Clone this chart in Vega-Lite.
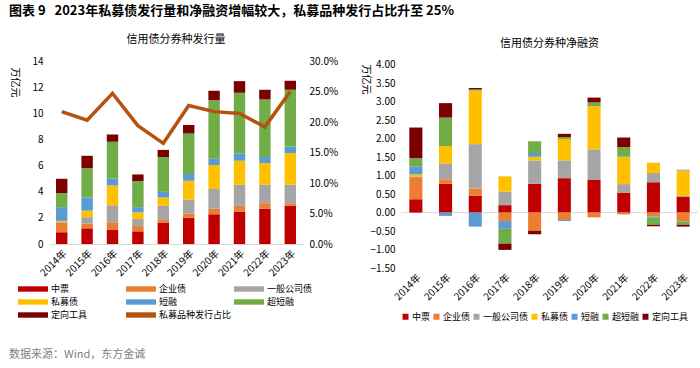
{
  "$schema": "https://vega.github.io/schema/vega-lite/v6.json",
  "padding": {"left": 9, "top": 5, "right": 2, "bottom": 3},
  "background": "white",
  "config": {
    "font": "Noto Sans CJK SC",
    "view": {"stroke": null},
    "axis": {"labelFont": "Noto Sans CJK SC", "labelColor": "#000", "titleColor": "#000", "grid": false, "ticks": false, "domain": false, "labelFontSize": 10, "titleFontSize": 10, "titleFontWeight": "normal", "labelOverlap": false},
    "legend": {"labelFontSize": 9.3, "labelColor": "#000", "labelFont": "Noto Sans CJK SC", "padding": 0},
    "title": {"fontWeight": "normal", "color": "#000"}
  },
  "title": {"text": "图表 9\u00a0\u00a0\u00a02023年私募债发行量和净融资增幅较大，私募品种发行占比升至 25%", "anchor": "start", "fontSize": 13, "fontWeight": "bold", "offset": 16, "color": "#000"},
  "datasets": {
    "issue": [
      {"year": "2014年", "series": "中票", "k": 0, "value": 0.9},
      {"year": "2014年", "series": "企业债", "k": 1, "value": 0.74},
      {"year": "2014年", "series": "一般公司债", "k": 2, "value": 0.05},
      {"year": "2014年", "series": "私募债", "k": 3, "value": 0.08},
      {"year": "2014年", "series": "短融", "k": 4, "value": 1.05},
      {"year": "2014年", "series": "超短融", "k": 5, "value": 1.07},
      {"year": "2014年", "series": "定向工具", "k": 6, "value": 1.1},
      {"year": "2015年", "series": "中票", "k": 0, "value": 1.2},
      {"year": "2015年", "series": "企业债", "k": 1, "value": 0.35},
      {"year": "2015年", "series": "一般公司债", "k": 2, "value": 0.5},
      {"year": "2015年", "series": "私募债", "k": 3, "value": 0.5},
      {"year": "2015年", "series": "短融", "k": 4, "value": 1.0},
      {"year": "2015年", "series": "超短融", "k": 5, "value": 2.25},
      {"year": "2015年", "series": "定向工具", "k": 6, "value": 0.95},
      {"year": "2016年", "series": "中票", "k": 0, "value": 1.07},
      {"year": "2016年", "series": "企业债", "k": 1, "value": 0.6},
      {"year": "2016年", "series": "一般公司债", "k": 2, "value": 1.3},
      {"year": "2016年", "series": "私募债", "k": 3, "value": 1.5},
      {"year": "2016年", "series": "短融", "k": 4, "value": 0.55},
      {"year": "2016年", "series": "超短融", "k": 5, "value": 2.8},
      {"year": "2016年", "series": "定向工具", "k": 6, "value": 0.55},
      {"year": "2017年", "series": "中票", "k": 0, "value": 0.97},
      {"year": "2017年", "series": "企业债", "k": 1, "value": 0.4},
      {"year": "2017年", "series": "一般公司债", "k": 2, "value": 0.55},
      {"year": "2017年", "series": "私募债", "k": 3, "value": 0.5},
      {"year": "2017年", "series": "短融", "k": 4, "value": 0.4},
      {"year": "2017年", "series": "超短融", "k": 5, "value": 2.0},
      {"year": "2017年", "series": "定向工具", "k": 6, "value": 0.5},
      {"year": "2018年", "series": "中票", "k": 0, "value": 1.64},
      {"year": "2018年", "series": "企业债", "k": 1, "value": 0.2},
      {"year": "2018年", "series": "一般公司债", "k": 2, "value": 1.08},
      {"year": "2018年", "series": "私募债", "k": 3, "value": 0.64},
      {"year": "2018年", "series": "短融", "k": 4, "value": 0.43},
      {"year": "2018年", "series": "超短融", "k": 5, "value": 2.66},
      {"year": "2018年", "series": "定向工具", "k": 6, "value": 0.55},
      {"year": "2019年", "series": "中票", "k": 0, "value": 2.0},
      {"year": "2019年", "series": "企业债", "k": 1, "value": 0.33},
      {"year": "2019年", "series": "一般公司债", "k": 2, "value": 1.07},
      {"year": "2019年", "series": "私募债", "k": 3, "value": 1.44},
      {"year": "2019年", "series": "短融", "k": 4, "value": 0.51},
      {"year": "2019年", "series": "超短融", "k": 5, "value": 3.1},
      {"year": "2019年", "series": "定向工具", "k": 6, "value": 0.66},
      {"year": "2020年", "series": "中票", "k": 0, "value": 2.28},
      {"year": "2020年", "series": "企业债", "k": 1, "value": 0.41},
      {"year": "2020年", "series": "一般公司债", "k": 2, "value": 1.51},
      {"year": "2020年", "series": "私募债", "k": 3, "value": 1.84},
      {"year": "2020年", "series": "短融", "k": 4, "value": 0.49},
      {"year": "2020年", "series": "超短融", "k": 5, "value": 4.47},
      {"year": "2020年", "series": "定向工具", "k": 6, "value": 0.72},
      {"year": "2021年", "series": "中票", "k": 0, "value": 2.48},
      {"year": "2021年", "series": "企业债", "k": 1, "value": 0.44},
      {"year": "2021年", "series": "一般公司债", "k": 2, "value": 1.61},
      {"year": "2021年", "series": "私募债", "k": 3, "value": 1.84},
      {"year": "2021年", "series": "短融", "k": 4, "value": 0.54},
      {"year": "2021年", "series": "超短融", "k": 5, "value": 4.66},
      {"year": "2021年", "series": "定向工具", "k": 6, "value": 0.89},
      {"year": "2022年", "series": "中票", "k": 0, "value": 2.69},
      {"year": "2022年", "series": "企业债", "k": 1, "value": 0.43},
      {"year": "2022年", "series": "一般公司债", "k": 2, "value": 1.41},
      {"year": "2022年", "series": "私募债", "k": 3, "value": 1.66},
      {"year": "2022年", "series": "短融", "k": 4, "value": 0.46},
      {"year": "2022年", "series": "超短融", "k": 5, "value": 4.41},
      {"year": "2022年", "series": "定向工具", "k": 6, "value": 0.74},
      {"year": "2023年", "series": "中票", "k": 0, "value": 2.92},
      {"year": "2023年", "series": "企业债", "k": 1, "value": 0.2},
      {"year": "2023年", "series": "一般公司债", "k": 2, "value": 1.41},
      {"year": "2023年", "series": "私募债", "k": 3, "value": 2.43},
      {"year": "2023年", "series": "短融", "k": 4, "value": 0.49},
      {"year": "2023年", "series": "超短融", "k": 5, "value": 4.35},
      {"year": "2023年", "series": "定向工具", "k": 6, "value": 0.69}
    ],
    "ratio": [
      {"year": "2014年", "series": "私募品种发行占比", "pct": 0.217},
      {"year": "2015年", "series": "私募品种发行占比", "pct": 0.203},
      {"year": "2016年", "series": "私募品种发行占比", "pct": 0.247},
      {"year": "2017年", "series": "私募品种发行占比", "pct": 0.194},
      {"year": "2018年", "series": "私募品种发行占比", "pct": 0.165},
      {"year": "2019年", "series": "私募品种发行占比", "pct": 0.227},
      {"year": "2020年", "series": "私募品种发行占比", "pct": 0.217},
      {"year": "2021年", "series": "私募品种发行占比", "pct": 0.214},
      {"year": "2022年", "series": "私募品种发行占比", "pct": 0.192},
      {"year": "2023年", "series": "私募品种发行占比", "pct": 0.25}
    ],
    "net": [
      {"year": "2014年", "series": "中票", "k": 0, "value": 0.36},
      {"year": "2014年", "series": "企业债", "k": 1, "value": 0.6},
      {"year": "2014年", "series": "一般公司债", "k": 2, "value": 0.02},
      {"year": "2014年", "series": "私募债", "k": 3, "value": 0.05},
      {"year": "2014年", "series": "短融", "k": 4, "value": 0.22},
      {"year": "2014年", "series": "超短融", "k": 5, "value": 0.22},
      {"year": "2014年", "series": "定向工具", "k": 6, "value": 0.83},
      {"year": "2015年", "series": "中票", "k": 0, "value": 0.78},
      {"year": "2015年", "series": "企业债", "k": 1, "value": 0.12},
      {"year": "2015年", "series": "一般公司债", "k": 2, "value": 0.43},
      {"year": "2015年", "series": "私募债", "k": 3, "value": 0.47},
      {"year": "2015年", "series": "短融", "k": 4, "value": -0.09},
      {"year": "2015年", "series": "超短融", "k": 5, "value": 0.77},
      {"year": "2015年", "series": "定向工具", "k": 6, "value": 0.39},
      {"year": "2016年", "series": "中票", "k": 0, "value": 0.45},
      {"year": "2016年", "series": "企业债", "k": 1, "value": 0.2},
      {"year": "2016年", "series": "一般公司债", "k": 2, "value": 1.2},
      {"year": "2016年", "series": "私募债", "k": 3, "value": 1.45},
      {"year": "2016年", "series": "短融", "k": 4, "value": -0.38},
      {"year": "2016年", "series": "超短融", "k": 5, "value": 0.03},
      {"year": "2016年", "series": "定向工具", "k": 6, "value": 0.04},
      {"year": "2017年", "series": "中票", "k": 0, "value": 0.2},
      {"year": "2017年", "series": "企业债", "k": 1, "value": -0.23},
      {"year": "2017年", "series": "一般公司债", "k": 2, "value": 0.37},
      {"year": "2017年", "series": "私募债", "k": 3, "value": 0.41},
      {"year": "2017年", "series": "短融", "k": 4, "value": -0.21},
      {"year": "2017年", "series": "超短融", "k": 5, "value": -0.4},
      {"year": "2017年", "series": "定向工具", "k": 6, "value": -0.17},
      {"year": "2018年", "series": "中票", "k": 0, "value": 0.78},
      {"year": "2018年", "series": "企业债", "k": 1, "value": -0.49},
      {"year": "2018年", "series": "一般公司债", "k": 2, "value": 0.63},
      {"year": "2018年", "series": "私募债", "k": 3, "value": 0.1},
      {"year": "2018年", "series": "短融", "k": 4, "value": 0.1},
      {"year": "2018年", "series": "超短融", "k": 5, "value": 0.32},
      {"year": "2018年", "series": "定向工具", "k": 6, "value": -0.1},
      {"year": "2019年", "series": "中票", "k": 0, "value": 0.93},
      {"year": "2019年", "series": "企业债", "k": 1, "value": -0.2},
      {"year": "2019年", "series": "一般公司债", "k": 2, "value": 0.48},
      {"year": "2019年", "series": "私募债", "k": 3, "value": 0.58},
      {"year": "2019年", "series": "短融", "k": 4, "value": -0.03},
      {"year": "2019年", "series": "超短融", "k": 5, "value": 0.05},
      {"year": "2019年", "series": "定向工具", "k": 6, "value": 0.09},
      {"year": "2020年", "series": "中票", "k": 0, "value": 0.88},
      {"year": "2020年", "series": "企业债", "k": 1, "value": -0.13},
      {"year": "2020年", "series": "一般公司债", "k": 2, "value": 0.83},
      {"year": "2020年", "series": "私募债", "k": 3, "value": 1.17},
      {"year": "2020年", "series": "短融", "k": 4, "value": 0.0},
      {"year": "2020年", "series": "超短融", "k": 5, "value": 0.1},
      {"year": "2020年", "series": "定向工具", "k": 6, "value": 0.13},
      {"year": "2021年", "series": "中票", "k": 0, "value": 0.54},
      {"year": "2021年", "series": "企业债", "k": 1, "value": -0.05},
      {"year": "2021年", "series": "一般公司债", "k": 2, "value": 0.23},
      {"year": "2021年", "series": "私募债", "k": 3, "value": 0.74},
      {"year": "2021年", "series": "短融", "k": 4, "value": 0.02},
      {"year": "2021年", "series": "超短融", "k": 5, "value": 0.24},
      {"year": "2021年", "series": "定向工具", "k": 6, "value": 0.26},
      {"year": "2022年", "series": "中票", "k": 0, "value": 0.82},
      {"year": "2022年", "series": "企业债", "k": 1, "value": -0.11},
      {"year": "2022年", "series": "一般公司债", "k": 2, "value": 0.25},
      {"year": "2022年", "series": "私募债", "k": 3, "value": 0.28},
      {"year": "2022年", "series": "短融", "k": 4, "value": -0.03},
      {"year": "2022年", "series": "超短融", "k": 5, "value": -0.19},
      {"year": "2022年", "series": "定向工具", "k": 6, "value": -0.04},
      {"year": "2023年", "series": "中票", "k": 0, "value": 0.42},
      {"year": "2023年", "series": "企业债", "k": 1, "value": -0.24},
      {"year": "2023年", "series": "一般公司债", "k": 2, "value": 0.03},
      {"year": "2023年", "series": "私募债", "k": 3, "value": 0.69},
      {"year": "2023年", "series": "短融", "k": 4, "value": 0.02},
      {"year": "2023年", "series": "超短融", "k": 5, "value": -0.09},
      {"year": "2023年", "series": "定向工具", "k": 6, "value": -0.05}
    ],
    "zero": [{"z": 0}]
  },
  "vconcat": [
    {
      "title": {"text": "数据来源：Wind，东方金诚", "orient": "bottom", "anchor": "start", "fontSize": 11, "color": "#7f7f7f", "offset": 27, "fontWeight": "normal"},
      "bounds": "flush",
      "spacing": 98,
      "hconcat": [
        {
          "width": 254,
          "height": 183,
          "title": {"text": "信用债分券种发行量", "fontSize": 11, "offset": 11},
          "layer": [
            {
              "data": {"name": "issue"},
              "mark": {"type": "bar"},
              "encoding": {
                "x": {"field": "year", "type": "ordinal", "scale": {"paddingInner": 0.55, "paddingOuter": 0.275}, "axis": {"title": null, "labelAngle": -45, "domain": true, "domainColor": "#d9d9d9", "labelPadding": 4}},
                "y": {"field": "value", "type": "quantitative", "scale": {"domain": [0, 14], "nice": false}, "axis": {"values": [0, 2, 4, 6, 8, 10, 12, 14], "labelOverlap": false, "title": "万亿元", "titleAngle": 90, "titleX": -35, "titleY": 6, "titleAlign": "left", "titleBaseline": "middle", "labelPadding": 6}},
                "color": {
                  "field": "series", "type": "nominal",
                  "scale": {"domain": ["中票", "企业债", "一般公司债", "私募债", "短融", "超短融", "定向工具", "私募品种发行占比"], "range": ["#C00000", "#ED7D31", "#A5A5A5", "#FFC000", "#5B9BD5", "#70AD47", "#7B0000", "#B5520F"]},
                  "legend": {"title": null, "orient": "none", "legendX": -31, "legendY": 222, "direction": "horizontal", "columns": 3, "symbolType": "M-1,-0.45L4,-0.45L4,0.45L-1,0.45Z", "symbolSize": 144, "symbolStrokeWidth": 0, "gridAlign": "all", "columnPadding": 2, "rowPadding": 2, "labelOffset": 21, "labelFontSize": 9}
                },
                "order": {"field": "k", "type": "quantitative"}
              }
            },
            {
              "data": {"name": "ratio"},
              "mark": {"type": "line", "strokeWidth": 3.5},
              "encoding": {
                "x": {"field": "year", "type": "ordinal"},
                "y": {"field": "pct", "type": "quantitative", "scale": {"domain": [0, 0.3], "nice": false}, "axis": {"orient": "right", "format": ".1%", "values": [0, 0.05, 0.1, 0.15, 0.2, 0.25, 0.3], "labelOverlap": false, "title": null, "labelPadding": 6}},
                "color": {"field": "series", "type": "nominal"}
              }
            }
          ],
          "resolve": {"scale": {"y": "independent"}}
        },
        {
          "width": 297,
          "height": 207,
          "title": {"text": "信用债分券种净融资", "fontSize": 11, "offset": 11},
          "layer": [
            {
              "data": {"name": "zero"},
              "mark": {"type": "rule", "color": "#d9d9d9", "strokeWidth": 1},
              "encoding": {"y": {"field": "z", "type": "quantitative", "scale": {"domain": [-1.5, 4.1], "nice": false}, "axis": {"values": [-1.5, -1, -0.5, 0, 0.5, 1, 1.5, 2, 2.5, 3, 3.5, 4], "labelOverlap": false, "format": ".2f", "title": "万亿元", "titleAngle": 90, "titleX": -36, "titleY": 3, "titleAlign": "left", "titleBaseline": "middle", "labelPadding": 6}}}
            },
            {
              "data": {"name": "net"},
              "mark": {"type": "bar"},
              "encoding": {
                "x": {"field": "year", "type": "ordinal", "scale": {"paddingInner": 0.56, "paddingOuter": 0.28}, "axis": {"title": null, "labelAngle": -45, "labelPadding": 4}},
                "y": {"field": "value", "type": "quantitative", "scale": {"domain": [-1.5, 4.1], "nice": false}, "axis": {"values": [-1.5, -1, -0.5, 0, 0.5, 1, 1.5, 2, 2.5, 3, 3.5, 4], "labelOverlap": false, "format": ".2f", "title": "万亿元", "titleAngle": 90, "titleX": -36, "titleY": 3, "titleAlign": "left", "titleBaseline": "middle", "labelPadding": 6}},
                "color": {
                  "field": "series", "type": "nominal",
                  "scale": {"domain": ["中票", "企业债", "一般公司债", "私募债", "短融", "超短融", "定向工具"], "range": ["#C00000", "#ED7D31", "#A5A5A5", "#FFC000", "#5B9BD5", "#70AD47", "#7B0000"]},
                  "legend": {"title": null, "orient": "bottom", "offset": 10, "direction": "horizontal", "columns": 7, "symbolType": "square", "symbolSize": 36, "symbolStrokeWidth": 0, "columnPadding": 1, "labelOffset": 2, "labelFontSize": 9}
                },
                "order": {"field": "k", "type": "quantitative"}
              }
            }
          ]
        }
      ],
      "resolve": {"scale": {"color": "independent"}, "legend": {"color": "independent"}}
    }
  ]
}
